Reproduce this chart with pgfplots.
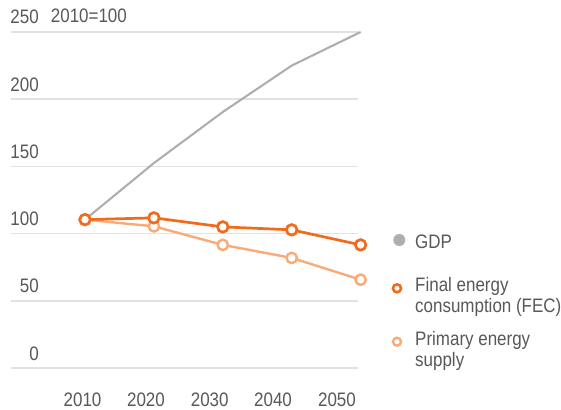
\documentclass[border=0pt]{standalone}
\usepackage{pgfplots}
\pgfplotsset{compat=1.18}
\usepackage{fontspec}
\setmainfont{Liberation Sans}[FakeStretch=0.87]
\definecolor{fec}{HTML}{F26A1B}
\definecolor{pes}{HTML}{F8AB77}
\definecolor{gdp}{HTML}{AEAEB2}
\definecolor{txt}{HTML}{585858}
\definecolor{grd}{HTML}{E2E2E2}
\newcommand{\cf}{\fontsize{19.5bp}{21.3bp}\selectfont}
\begin{document}
\begin{tikzpicture}
\path[use as bounding box] (0,0) rectangle (561bp,410bp);
\begin{axis}[
  at={(11bp,42bp)}, anchor=south west,
  scale only axis, width=347bp, height=336bp,
  xmin=1999.26, xmax=2049.62, ymin=0, ymax=250,
  axis line style={draw=none},
  major tick length=0pt,
  ytick={0,50,...,250},
  ymajorgrids, grid style={grd, line width=1.6bp},
  xtick={2009.64,2018.85,2028.1,2037.29,2046.57},
  xticklabels={2010,2020,2030,2040,2050},
  tick label style={font=\cf, text=txt, inner sep=0pt},
  yticklabel style={anchor=base east, xshift=28bp, yshift=8bp},
  xticklabel style={anchor=base, yshift=-38bp},
  clip=false,
  /pgf/number format/assume math mode=true,
]
\addplot[gdp, line width=2.1bp] coordinates {(2010,110.4)(2020,152.5)(2030,190.5)(2040,225)(2050,250)};
\addplot[pes, line width=2.4bp, mark=*, mark size=5.2bp, mark options={fill=white, line width=2.4bp}] coordinates {(2010,110.4)(2020,105.4)(2030,91.6)(2040,81.9)(2050,65.7)};
\addplot[fec, line width=2.7bp, mark=*, mark size=5.3bp, mark options={fill=white, line width=2.7bp}] coordinates {(2010,110.4)(2020,111.7)(2030,105)(2040,102.8)(2050,91.6)};
\node[anchor=base west, inner sep=0pt, text=txt, font=\cf] at (axis cs:2005.02,256.7) {2010=100};
\end{axis}
\node[circle, fill=gdp, minimum size=12bp, inner sep=0pt] at (399.3bp,170bp) {};
\node[circle, draw=fec, line width=2.6bp, fill=white, minimum size=8bp, inner sep=0pt] at (397bp,121.7bp) {};
\node[circle, draw=pes, line width=2.4bp, fill=white, minimum size=8bp, inner sep=0pt] at (397bp,68.3bp) {};
\begin{scope}[every node/.style={anchor=base west, inner sep=0pt, text=txt, font=\cf}]
\node at (415bp,161bp) {GDP};
\node at (415bp,118.3bp) {Final energy};
\node at (415bp,97bp) {consumption (FEC)};
\node at (415bp,64.3bp) {Primary energy};
\node at (415bp,43.3bp) {supply};
\end{scope}
\end{tikzpicture}
\end{document}
